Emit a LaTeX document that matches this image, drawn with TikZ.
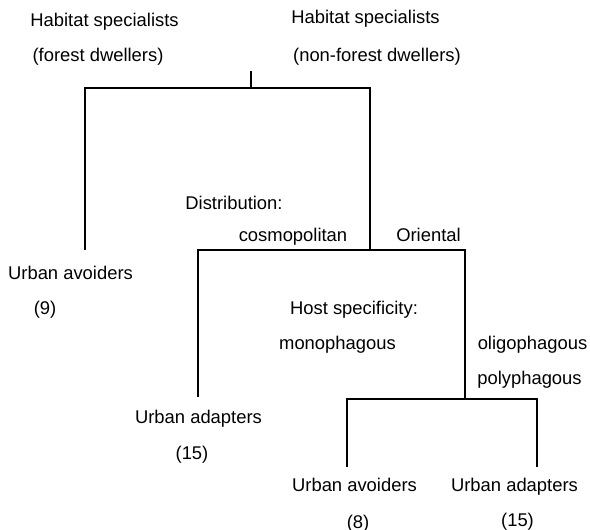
\documentclass[tikz,border=0pt]{standalone}
\usepackage{fontspec}
\setmainfont{Liberation Sans}
\usepackage{tikz}

\begin{document}
\begin{tikzpicture}[x=5pt,y=5pt,line width=1pt,
    lbl/.style={anchor=base,inner sep=0pt,font=\fontsize{9.2}{11}\selectfont}]
    \useasboundingbox (0,0) rectangle (59,53);
    % branch points of the tree
    \coordinate (root) at (25.1,45.9);
    \coordinate (hab) at (25.1,44.2);
    \coordinate (forest) at (8.5,28.0);
    \coordinate (distr) at (37.0,28.0);
    \coordinate (cosmo) at (19.8,13.3);
    \coordinate (host) at (46.5,13.1);
    \coordinate (mono) at (34.7,6.3);
    \coordinate (poly) at (53.7,6.3);
\draw (root) -- (hab);
\draw (forest) |- (hab) -| (distr);
\draw (cosmo) |- (distr) -| (host);
\draw (mono) |- (host) -| (poly);
    % labels
    \node[lbl] (habA) at (10.45,50.35) {Habitat specialists};
    \node[lbl] (habAx) at (9.8,46.85) {(forest dwellers)};
    \node[lbl] (habB) at (36.55,50.65) {Habitat specialists};
    \node[lbl] (habBx) at (37.7,46.85) {(non-forest dwellers)};
    \node[lbl] (dist) at (23.4,32.05) {Distribution:};
    \node[lbl] (dcos) at (29.3,28.85) {cosmopolitan};
    \node[lbl] (dori) at (42.85,28.85) {Oriental};
    \node[lbl] (avA) at (7.05,25.05) {Urban avoiders};
    \node[lbl] (avAn) at (4.5,21.55) {(9)};
    \node[lbl] (hspec) at (35.4,21.55) {Host specificity:};
    \node[lbl] (hmono) at (33.75,18.05) {monophagous};
    \node[lbl] (holig) at (53.25,18.05) {oligophagous};
    \node[lbl] (hpoly) at (52.95,14.55) {polyphagous};
    \node[lbl] (adA) at (19.85,10.65) {Urban adapters};
    \node[lbl] (adAn) at (19.2,7.05) {(15)};
    \node[lbl] (avB) at (35.45,3.85) {Urban avoiders};
    \node[lbl] (adB) at (51.45,3.85) {Urban adapters};
    \node[lbl] (avBn) at (35.8,0.15) {(8)};
    \node[lbl] (adBn) at (51.75,0.35) {(15)};
\end{tikzpicture}
\end{document}
